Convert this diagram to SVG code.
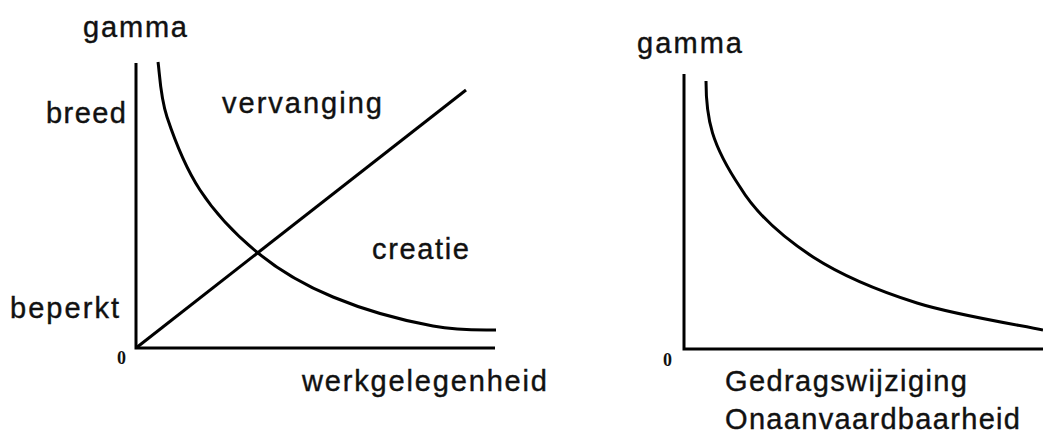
<svg xmlns="http://www.w3.org/2000/svg" width="1043" height="433" viewBox="0 0 1043 433">
<style>
.lbl{font-family:"Liberation Sans",Arial,sans-serif;font-size:29px;fill:#111;stroke:#111;stroke-width:0.4}
.zero{font-family:"Liberation Serif","Times New Roman",serif;font-size:18px;font-weight:bold;fill:#111}
.ln{fill:none;stroke:#000;stroke-width:3}
</style>
<rect width="1043" height="433" fill="#fff"/>
<g id="left-chart">
<g id="left-axes">
<path class="ln" d="M136,63 V348 H495"/>
</g>
<g id="left-connectors">
<path class="ln" d="M158,62 C159.5,71 160,96 167,117 C174,138 185,167 200,190 C215,213 236,235 258,253 C280,271 304,285 333,297 C362,309 400,320 433,326 C460,331 485,330 496,330"/>
<path class="ln" d="M136,348 L466,90"/>
</g>
<text class="lbl" x="83" y="37" textLength="104" lengthAdjust="spacing">gamma</text>
<text class="lbl" x="46" y="123" textLength="80" lengthAdjust="spacing">breed</text>
<text class="lbl" x="10" y="318" textLength="109" lengthAdjust="spacing">beperkt</text>
<text class="lbl" x="222" y="113" textLength="160" lengthAdjust="spacing">vervanging</text>
<text class="lbl" x="372" y="259" textLength="97" lengthAdjust="spacing">creatie</text>
<text class="lbl" x="302" y="391" textLength="245" lengthAdjust="spacing">werkgelegenheid</text>
<text class="zero" x="117" y="364">0</text>
</g>
<g id="right-chart">
<g id="right-axes">
<path class="ln" d="M684,74 V349 H1043"/>
</g>
<g id="right-connectors">
<path class="ln" d="M706,81 C706,120 712,145 740,187 C757.8,216.3 783.5,237.7 813,257 C842.5,276 879,291 917,303 C955,315 1022,325.5 1043,330"/>
</g>
<text class="lbl" x="637" y="53" textLength="105" lengthAdjust="spacing">gamma</text>
<text class="lbl" x="725" y="391" textLength="242" lengthAdjust="spacing">Gedragswijziging</text>
<text class="lbl" x="725" y="429" textLength="295" lengthAdjust="spacing">Onaanvaardbaarheid</text>
<text class="zero" x="663" y="366">0</text>
</g>
</svg>
